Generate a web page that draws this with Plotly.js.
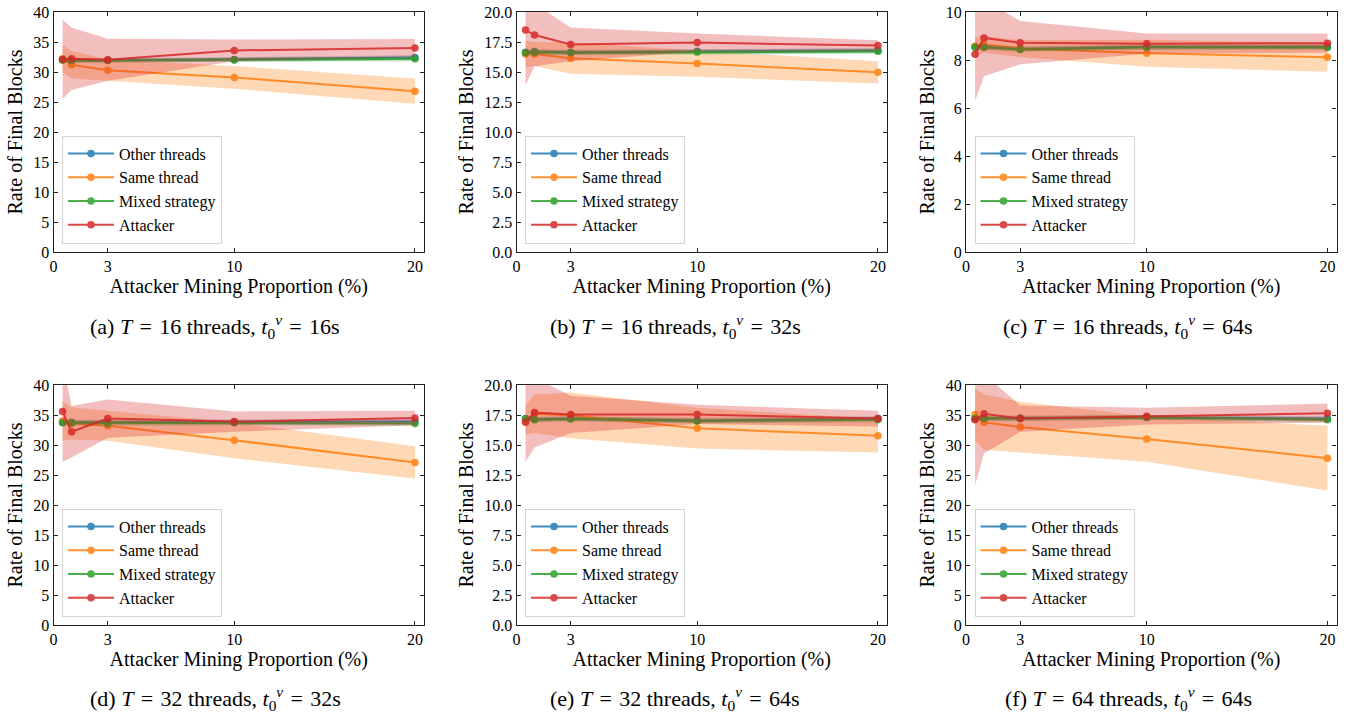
<!DOCTYPE html>
<html><head><meta charset="utf-8">
<script src="https://cdn.plot.ly/plotly-3.0.1.min.js"></script>
<style>html,body{margin:0;padding:0;background:#fff}</style>
</head><body><div id="chart" style="width:1352px;height:718px"></div>
<script>
const xValues = [0.5, 1, 3, 10, 20];
const xTickVals = [0, 3, 10, 20];
const seriesNames = ['Other threads', 'Same thread', 'Mixed strategy', 'Attacker'];
const seriesColors = ['#1f77b4', '#ff7f0e', '#2ca02c', '#d62728'];
const bandColors = ['rgba(31,119,180,0.3)', 'rgba(255,127,14,0.3)', 'rgba(44,160,44,0.3)', 'rgba(214,39,40,0.3)'];

// (a) T=16, t0=16s
const aOther = [32.05, 31.9, 31.95, 32.1, 32.4];
const aOtherSd = [0.4, 0.4, 0.35, 0.35, 0.4];
const aSame = [32.2, 31.2, 30.3, 29.1, 26.8];
const aSameSd = [2.3, 2.3, 1.8, 1.9, 2.1];
const aMixed = [32.0, 31.9, 31.9, 32.0, 32.2];
const aMixedSd = [0.4, 0.4, 0.35, 0.35, 0.4];
const aAttacker = [32.1, 32.2, 32.05, 33.6, 34.0];
const aAttackerSd = [6.6, 5.2, 3.5, 1.8, 1.5];

// (b) T=16, t0=32s
const bOther = [16.65, 16.7, 16.65, 16.72, 16.8];
const bOtherSd = [0.2, 0.2, 0.2, 0.2, 0.2];
const bSame = [16.5, 16.5, 16.15, 15.7, 14.97];
const bSameSd = [1.1, 1.0, 1.3, 1.1, 0.92];
const bMixed = [16.6, 16.65, 16.6, 16.67, 16.72];
const bMixedSd = [0.2, 0.2, 0.2, 0.2, 0.2];
const bAttacker = [18.5, 18.08, 17.3, 17.45, 17.2];
const bAttackerSd = [4.6, 2.6, 1.4, 0.75, 0.45];

// (c) T=16, t0=64s
const cOther = [8.55, 8.55, 8.46, 8.55, 8.56];
const cOtherSd = [0.1, 0.1, 0.1, 0.1, 0.1];
const cSame = [8.57, 8.65, 8.48, 8.28, 8.11];
const cSameSd = [0.4, 0.35, 0.35, 0.56, 0.6];
const cMixed = [8.53, 8.53, 8.44, 8.53, 8.52];
const cMixedSd = [0.1, 0.1, 0.1, 0.1, 0.1];
const cAttacker = [8.24, 8.92, 8.72, 8.68, 8.70];
const cAttackerSd = [1.94, 1.6, 0.9, 0.42, 0.4];

// (d) T=32, t0=32s
const dOther = [33.8, 33.8, 33.8, 33.8, 33.9];
const dOtherSd = [0.4, 0.4, 0.4, 0.4, 0.4];
const dSame = [34.0, 33.6, 33.2, 30.8, 27.1];
const dSameSd = [3.3, 2.7, 2.5, 3.0, 2.7];
const dMixed = [33.7, 33.7, 33.6, 33.7, 33.6];
const dMixedSd = [0.4, 0.4, 0.4, 0.4, 0.4];
const dAttacker = [35.6, 32.2, 34.4, 33.9, 34.5];
const dAttackerSd = [8.4, 4.3, 3.2, 1.7, 1.2];

// (e) T=32, t0=64s
const eOther = [17.2, 17.15, 17.2, 17.05, 17.2];
const eOtherSd = [0.2, 0.2, 0.2, 0.2, 0.2];
const eSame = [17.1, 17.6, 17.47, 16.4, 15.77];
const eSameSd = [1.2, 1.6, 1.9, 1.7, 1.4];
const eMixed = [17.17, 17.1, 17.17, 17.0, 17.1];
const eMixedSd = [0.2, 0.2, 0.2, 0.2, 0.2];
const eAttacker = [16.9, 17.7, 17.55, 17.55, 17.2];
const eAttackerSd = [3.3, 2.9, 1.55, 0.8, 0.66];

// (f) T=64, t0=64s
const fOther = [34.4, 34.5, 34.5, 34.6, 34.4];
const fOtherSd = [0.4, 0.4, 0.4, 0.4, 0.4];
const fSame = [35.1, 33.8, 33.0, 31.0, 27.8];
const fSameSd = [4.3, 4.6, 4.2, 3.8, 5.4];
const fMixed = [34.4, 34.4, 34.4, 34.6, 34.2];
const fMixedSd = [0.4, 0.4, 0.4, 0.4, 0.4];
const fAttacker = [34.2, 35.2, 34.4, 34.8, 35.3];
const fAttackerSd = [10.9, 6.6, 2.2, 1.4, 1.6];

const SP = '\u2004';
const panelLetters = ['a', 'b', 'c', 'd', 'e', 'f'];
const panelThreads = [16, 16, 16, 32, 32, 64];
const panelDelays = ['16s', '32s', '64s', '32s', '64s', '64s'];
const yMaxes = [40, 20, 10, 40, 20, 40];
const yTickSteps = [5, 2.5, 2, 5, 2.5, 5];
const yTickFormats = ['d', '.1f', 'd', 'd', '.1f', 'd'];

const panels = [
  [[aOther, aOtherSd], [aSame, aSameSd], [aMixed, aMixedSd], [aAttacker, aAttackerSd]],
  [[bOther, bOtherSd], [bSame, bSameSd], [bMixed, bMixedSd], [bAttacker, bAttackerSd]],
  [[cOther, cOtherSd], [cSame, cSameSd], [cMixed, cMixedSd], [cAttacker, cAttackerSd]],
  [[dOther, dOtherSd], [dSame, dSameSd], [dMixed, dMixedSd], [dAttacker, dAttackerSd]],
  [[eOther, eOtherSd], [eSame, eSameSd], [eMixed, eMixedSd], [eAttacker, eAttackerSd]],
  [[fOther, fOtherSd], [fSame, fSameSd], [fMixed, fMixedSd], [fAttacker, fAttackerSd]]
];

const W = 1352, H = 718;
const FONT = 'Liberation Serif, DejaVu Serif, serif';
const AXC = '#222';
const colX = [[53.5, 424], [516.5, 887], [966, 1336.5]];
const rowY = [[12, 252], [385, 625]];
const captionX = [215, 675, 1128];
const captionY = [326, 698];

const data = [];
const layout = {
  width: W, height: H,
  margin: {l: 0, r: 0, t: 0, b: 0},
  paper_bgcolor: '#fff', plot_bgcolor: '#fff',
  font: {family: FONT, color: '#000', size: 16},
  showlegend: true,
  annotations: []
};

panels.forEach((series, i) => {
  const c = i % 3, r = Math.floor(i / 3);
  const xa = i === 0 ? 'x' : 'x' + (i + 1);
  const ya = i === 0 ? 'y' : 'y' + (i + 1);
  const lg = i === 0 ? 'legend' : 'legend' + (i + 1);
  series.forEach(([mean, sd], s) => {
    data.push({
      type: 'scatter', mode: 'lines+markers', x: xValues, y: mean,
      name: seriesNames[s], xaxis: xa, yaxis: ya, legend: lg,
      line: {color: seriesColors[s], width: 2},
      marker: {color: seriesColors[s], size: 7.5},
      opacity: 0.85, hoverinfo: 'x+y+name'
    });
    const upper = mean.map((m, k) => m + sd[k]);
    const lower = mean.map((m, k) => m - sd[k]);
    data.push({
      type: 'scatter', mode: 'lines',
      x: xValues.concat(xValues.slice().reverse()),
      y: upper.concat(lower.slice().reverse()),
      fill: 'toself', fillcolor: bandColors[s],
      line: {width: 0, color: bandColors[s]},
      xaxis: xa, yaxis: ya, showlegend: false, hoverinfo: 'skip'
    });
  });
  layout[xa.replace('x', 'xaxis')] = {
    domain: [colX[c][0] / W, colX[c][1] / W], anchor: ya,
    range: [0, 20.5], tickvals: xTickVals,
    ticks: 'inside', ticklen: 4, tickcolor: AXC, mirror: 'ticks',
    showline: true, linecolor: AXC, linewidth: 1.2,
    showgrid: false, zeroline: false,
    tickfont: {family: FONT, size: 16},
    title: {text: 'Attacker Mining Proportion (%)', font: {family: FONT, size: 20}, standoff: 3}
  };
  layout[ya.replace('y', 'yaxis')] = {
    domain: [1 - rowY[r][1] / H, 1 - rowY[r][0] / H], anchor: xa,
    range: [0, yMaxes[i]], dtick: yTickSteps[i], tick0: 0, tickformat: yTickFormats[i],
    ticks: 'inside', ticklen: 4, tickcolor: AXC, mirror: 'ticks',
    showline: true, linecolor: AXC, linewidth: 1.2,
    showgrid: false, zeroline: false,
    tickfont: {family: FONT, size: 16},
    title: {text: 'Rate of Final Blocks', font: {family: FONT, size: 20}, standoff: 5}
  };
  layout[lg] = {
    x: (colX[c][0] + 8.5) / W, y: 1 - (rowY[r][1] - 8.5) / H,
    xanchor: 'left', yanchor: 'bottom',
    bgcolor: 'rgba(255,255,255,0.85)', bordercolor: '#d4d4d4', borderwidth: 1,
    font: {family: FONT, size: 16}, tracegroupgap: 0, itemwidth: 46
  };
  layout.annotations.push({
    xref: 'paper', yref: 'paper', x: captionX[c] / W, y: 1 - captionY[r] / H,
    xanchor: 'center', yanchor: 'middle', showarrow: false,
    text: '(' + panelLetters[i] + ') <i>T</i>' + SP + '=' + SP + panelThreads[i] +
      ' threads, <i>t</i><sub>0</sub><sup><i>v</i></sup>' + SP + '=' + SP + panelDelays[i],
    font: {family: FONT, size: 22}
  });
});

Plotly.newPlot('chart', data, layout, {displayModeBar: false});
</script></body></html>
